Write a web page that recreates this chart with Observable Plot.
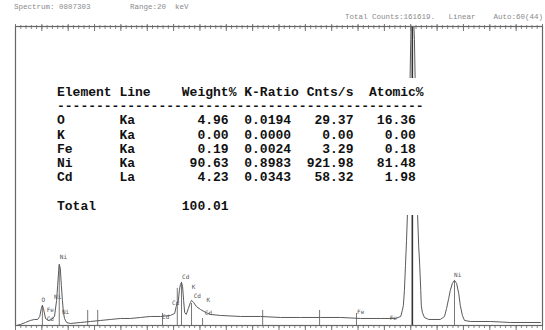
<!DOCTYPE html>
<html>
<head>
<meta charset="utf-8">
<script src="https://cdn.jsdelivr.net/npm/d3@7"></script>
<script src="https://cdn.jsdelivr.net/npm/@observablehq/plot@0.6"></script>
<style>
  html, body { margin: 0; padding: 0; background: #fff; }
  #wrap { position: relative; width: 545px; height: 330px; overflow: hidden; }
  .hdr { position: absolute; font-family: "Liberation Mono", "DejaVu Sans Mono", monospace;
         font-size: 7.5px; color: #8a8a8a; white-space: pre; }
  #table { position: absolute; left: 45px; top: 78px; width: 395px; height: 137px;
           background: #fff; box-sizing: border-box; padding: 8px 0 0 12px; margin: 0;
           font-family: "Liberation Mono", "DejaVu Sans Mono", monospace; font-weight: bold;
           font-size: 13px; line-height: 14.2px; color: #111; white-space: pre; }
</style>
</head>
<body>
<div id="wrap"></div>
<script>
// EDS spectrum: energy (keV) and counts per channel
const energyKeV = [0.02, 0.09, 0.19, 0.28, 0.36, 0.42, 0.46, 0.49, 0.51, 0.53, 0.57, 0.63, 0.68, 0.74,
  0.78, 0.80, 0.82, 0.83, 0.85, 0.87, 0.89, 0.91, 0.93, 0.97, 1.04, 1.23, 1.42, 1.61, 1.80, 1.99,
  2.18, 2.37, 2.56, 2.75, 2.94, 3.02, 3.05, 3.07, 3.09, 3.11, 3.13, 3.15, 3.17, 3.19, 3.21, 3.24,
  3.28, 3.32, 3.34, 3.38, 3.43, 3.51, 3.61, 3.70, 3.89, 4.27, 4.65, 5.03, 5.41, 5.79, 6.17, 6.55,
  6.93, 7.21, 7.31, 7.34, 7.36, 7.38, 7.40, 7.42, 7.44, 7.46, 7.48, 7.50, 7.51, 7.53, 7.55, 7.57,
  7.59, 7.61, 7.63, 7.65, 7.67, 7.69, 7.70, 7.72, 7.76, 7.84, 8.06, 8.14, 8.18, 8.22, 8.25, 8.29,
  8.33, 8.37, 8.41, 8.44, 8.48, 8.52, 8.63, 9.01, 9.39, 9.96];
const counts = [0, 10, 30, 50, 60, 60, 90, 170, 200, 170, 70, 50, 60, 90,
  250, 400, 550, 610, 570, 400, 250, 130, 70, 30, 20, 30, 40, 50, 60, 70,
  70, 80, 90, 90, 100, 120, 190, 220, 250, 350, 410, 430, 390, 250, 130, 110,
  170, 230, 250, 230, 190, 160, 130, 110, 100, 90, 90, 80, 80, 80, 80, 70,
  70, 70, 90, 150, 200, 350, 600, 850, 1150, 1650, 2250, 2850, 3100, 3200, 3100, 2850,
  2250, 1650, 1100, 800, 600, 350, 200, 130, 80, 60, 60, 90, 170, 270, 350, 420,
  450, 420, 320, 200, 100, 50, 40, 40, 30, 30];

// KLM marker lines: energy and height
const markerKeV = [0.51, 0.83, 1.37, 1.56, 2.79, 3.07, 3.15, 3.34, 3.55, 4.69, 5.77, 6.47, 8.33];
const markerTop = [200, 600, 150, 150, 120, 370, 430, 220, 70, 150, 150, 120, 450];
const mainMarkerKeV = [7.53];

// peak identification labels
const peakLabel = ["O", "Fe", "Cd", "Ni", "Ni", "Ni", "Cd", "Cd", "Cd", "K", "Cd", "K", "Cd", "Fe", "Fe", "Ni"];
const peakLabelKeV = [0.53, 0.66, 0.66, 0.91, 0.80, 0.95, 2.85, 3.04, 3.23, 3.38, 3.45, 3.66, 3.66, 6.55, 7.17, 8.39];
const peakLabelCounts = [250, 150, 60, 680, 280, 130, 80, 220, 480, 380, 290, 250, 120, 130, 70, 500];

// quantification results
const elements = ["O", "K", "Fe", "Ni", "Cd"];
const xrayLines = ["Ka", "Ka", "Ka", "Ka", "La"];
const weightPct = [4.96, 0.00, 0.19, 90.63, 4.23];
const kRatio = [0.0194, 0.0000, 0.0024, 0.8983, 0.0343];
const cntsPerSec = [29.37, 0.00, 3.29, 921.98, 58.32];
const atomicPct = [16.36, 0.00, 0.18, 81.48, 1.98];
const weightTotal = 100.01;

const spectrum = energyKeV.map((e, i) => ({e, c: counts[i]}));
const markers = markerKeV.map((e, i) => ({e, top: markerTop[i]}));
const labels = peakLabel.map((t, i) => ({t, e: peakLabelKeV[i], c: peakLabelCounts[i]}));

const minorTicks = d3.range(0, 100).map(i => i / 10);
const majorTicks = d3.range(0, 21).map(i => i / 2);
const blank = () => "";

const chart = Plot.plot({
  width: 545,
  height: 330,
  marginLeft: 15,
  marginRight: 3,
  marginTop: 26,
  marginBottom: 5,
  x: {domain: [0, 10]},
  y: {domain: [0, 2980], axis: null},
  style: {background: "#fff"},
  marks: [
    Plot.ruleX(markers, {x: "e", y1: 0, y2: "top", stroke: "#777", strokeWidth: 1}),
    Plot.ruleX(mainMarkerKeV, {y1: 0, y2: 2980, stroke: "#333", strokeWidth: 1.6}),
    Plot.line(spectrum, {x: "e", y: "c", stroke: "#5a5a5a", strokeWidth: 1, clip: true}),
    Plot.text(labels, {x: "e", y: "c", text: "t", fontSize: 6, fill: "#555",
      fontFamily: "DejaVu Sans Mono, monospace"}),
    // ruler ticks along the top edge, reaching into the frame
    Plot.axisX({anchor: "top", ticks: minorTicks, tickSize: 4, dy: 2, tickFormat: blank, label: null, stroke: "#888"}),
    Plot.axisX({anchor: "top", ticks: majorTicks, tickSize: 7, dy: 4, tickFormat: blank, label: null, stroke: "#777"}),
    Plot.axisX({anchor: "bottom", ticks: minorTicks, tickSize: 3, tickFormat: blank, label: null, stroke: "#888"}),
    Plot.axisX({anchor: "bottom", ticks: majorTicks, tickSize: 5, tickFormat: blank, label: null, stroke: "#777"}),
    Plot.frame({stroke: "#666", strokeWidth: 1.2})
  ]
});

const wrap = document.getElementById("wrap");
wrap.appendChild(chart);

function addHeader(text, css) {
  const d = document.createElement("div");
  d.className = "hdr";
  d.textContent = text;
  Object.assign(d.style, css);
  wrap.appendChild(d);
}
addHeader("Spectrum: 0807303", {left: "14px", top: "3px"});
addHeader("Range:20  keV", {left: "130px", top: "3px"});
addHeader("Total Counts:161619.   Linear    Auto:60(44)", {right: "2px", top: "13px"});

// results table
const f2 = v => v.toFixed(2);
const rows = [
  "Element Line    Weight% K-Ratio Cnts/s  Atomic%",
  "-".repeat(47),
  ...elements.map((el, i) =>
    el.padEnd(8) + xrayLines[i].padEnd(8) + f2(weightPct[i]).padStart(6) + "  " +
    kRatio[i].toFixed(4) + f2(cntsPerSec[i]).padStart(8) + f2(atomicPct[i]).padStart(8)),
  "",
  "Total".padEnd(16) + f2(weightTotal).padStart(6)
];
const table = document.createElement("pre");
table.id = "table";
table.textContent = rows.join("\n");
wrap.appendChild(table);
</script>
</body>
</html>
